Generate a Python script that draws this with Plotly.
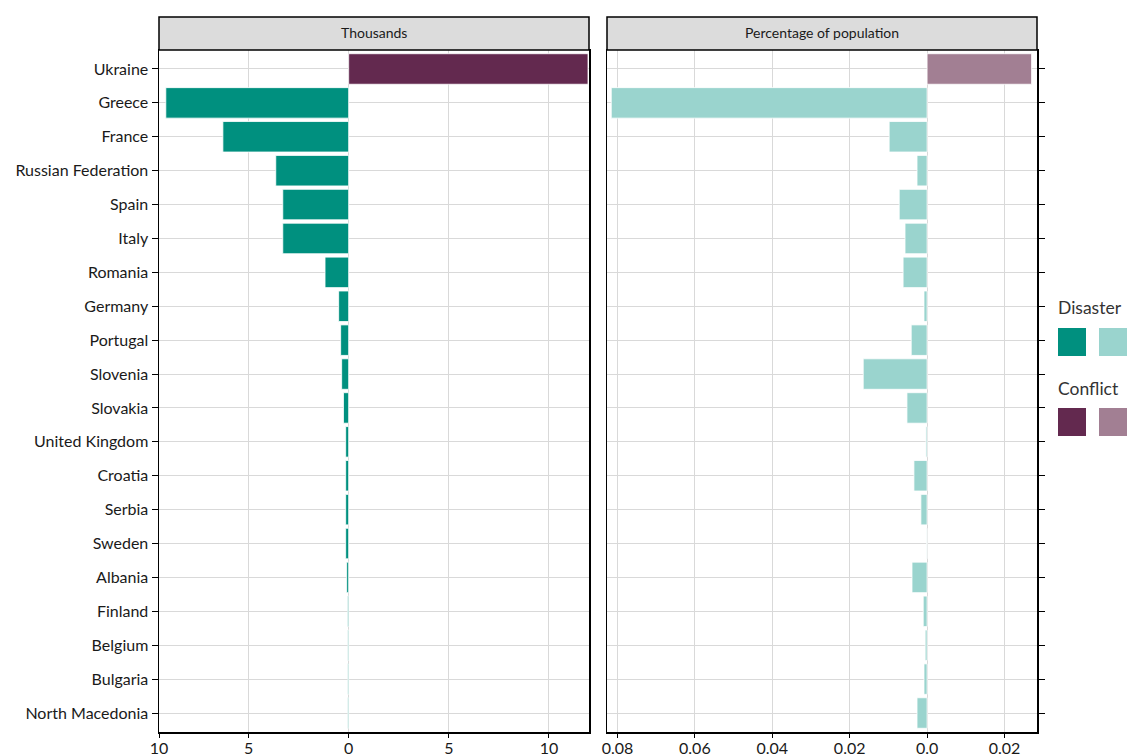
import plotly.graph_objects as go

countries = ["Ukraine", "Greece", "France", "Russian Federation", "Spain", "Italy",
             "Romania", "Germany", "Portugal", "Slovenia", "Slovakia", "United Kingdom",
             "Croatia", "Serbia", "Sweden", "Albania", "Finland", "Belgium", "Bulgaria",
             "North Macedonia"]

# Thousands of displacements
disaster_thousands = [None, 9.13, 6.28, 3.64, 3.29, 3.29, 1.18, 0.50, 0.40, 0.35, 0.26,
                      0.15, 0.15, 0.15, 0.15, 0.10, 0.05, 0.04, 0.04, 0.04]
conflict_thousands = [11.95] + [None] * 19

# Percentage of population
disaster_pct = [None, 0.0816, 0.0098, 0.0026, 0.0072, 0.0057, 0.0062, 0.0008, 0.0041,
                0.0165, 0.0052, 0.0003, 0.0034, 0.0016, 0.0001, 0.0039, 0.0010, 0.0005,
                0.0008, 0.0026]
conflict_pct = [0.0270] + [None] * 19

left_ticks = [5, 0, 5, 10]
right_ticks = [0.08, 0.06, 0.04, 0.02, 0.0, 0.02]

DARK_TEAL = "#00907F"
LIGHT_TEAL = "#9AD4CE"
DARK_PURPLE = "#63294F"
LIGHT_PURPLE = "#A27F93"

W, H = 1127, 756
def px(x):
    return x / W
def py(y):
    return 1 - y / H

neg = lambda arr: [(-v if v is not None else None) for v in arr]

fig = go.Figure()
bar_kw = dict(orientation="h", width=0.9, hoverinfo="skip", showlegend=False)
fig.add_trace(go.Bar(y=countries, x=neg(disaster_thousands), marker=dict(color=DARK_TEAL, line=dict(color="white", width=0.8)), xaxis="x", yaxis="y", **bar_kw))
fig.add_trace(go.Bar(y=countries, x=conflict_thousands, marker=dict(color=DARK_PURPLE, line=dict(color="white", width=0.8)), xaxis="x", yaxis="y", **bar_kw))
fig.add_trace(go.Bar(y=countries, x=neg(disaster_pct), marker=dict(color=LIGHT_TEAL, line=dict(color="white", width=0.8)), xaxis="x2", yaxis="y2", **bar_kw))
fig.add_trace(go.Bar(y=countries, x=conflict_pct, marker=dict(color=LIGHT_PURPLE, line=dict(color="white", width=0.8)), xaxis="x2", yaxis="y2", **bar_kw))

FONT = "Lato, Open Sans, sans-serif"
left_min, left_max = -9.47, 12.0
y_range = [19.56, -0.56]

grid = "#D9D9D9"
common_x = dict(showgrid=True, gridcolor=grid, gridwidth=1, zeroline=False,
                showline=True, linecolor="black", linewidth=1.5, mirror=True,
                ticks="outside", ticklen=4, tickcolor="black", automargin=False,
                ticklabelstandoff=-3,
                tickfont=dict(family=FONT, size=16, color="#1a1a1a"), fixedrange=True)
common_y = dict(type="category", categoryarray=countries, range=y_range,
                showgrid=True, gridcolor=grid, gridwidth=1, zeroline=False,
                showline=True, linecolor="black", linewidth=1.5, mirror=True,
                ticks="outside", ticklen=6, tickcolor="black", fixedrange=True,
                automargin=False)

fig.update_layout(
    template="none",
    width=W, height=H,
    margin=dict(l=0, r=0, t=0, b=0, pad=0, autoexpand=False),
    plot_bgcolor="white", paper_bgcolor="white",
    barmode="overlay", bargap=0.1,
    xaxis=dict(domain=[px(159), px(589)], range=[left_min, left_max],
               tickvals=[left_min, -5, 0, 5, 10],
               ticktext=[str(t) for t in [10] + left_ticks], anchor="y", **common_x),
    yaxis=dict(domain=[py(732), py(50)], anchor="x", side="left",
               tickfont=dict(family=FONT, size=16, color="#1a1a1a"), **common_y),
    xaxis2=dict(domain=[px(607), px(1037)], range=[-0.0827, 0.0284],
                tickvals=[-0.08, -0.06, -0.04, -0.02, 0, 0.02],
                ticktext=[f"{t:.2f}" if t != 0 else "0.0" for t in right_ticks],
                anchor="y2", **common_x),
    yaxis2=dict(domain=[py(732), py(50)], anchor="x2", side="right",
                showticklabels=False, **common_y),
)

shapes = []
annotations = []
for (x0, x1, label) in [(159, 589, "Thousands"), (607, 1037, "Percentage of population")]:
    shapes.append(dict(type="rect", xref="paper", yref="paper",
                       x0=px(x0), x1=px(x1), y0=py(50), y1=py(17),
                       fillcolor="#DCDCDC", line=dict(color="black", width=1.5)))
    annotations.append(dict(xref="paper", yref="paper", x=px((x0 + x1) / 2), y=py(32),
                            text=label, showarrow=False, xanchor="center", yanchor="middle",
                            font=dict(family=FONT, size=14, color="#1a1a1a")))

# Legend
for title, ty, sy, c1, c2 in [("Disaster", 307, 342, DARK_TEAL, LIGHT_TEAL),
                              ("Conflict", 388, 422, DARK_PURPLE, LIGHT_PURPLE)]:
    annotations.append(dict(xref="paper", yref="paper", x=px(1056), y=py(ty),
                            text=title, showarrow=False, xanchor="left", yanchor="middle",
                            font=dict(family=FONT, size=17.5, color="#333333")))
    for (xa, c) in [(1058, c1), (1099, c2)]:
        shapes.append(dict(type="rect", xref="paper", yref="paper",
                           x0=px(xa), x1=px(xa + 28), y0=py(sy + 14), y1=py(sy - 14),
                           fillcolor=c, line=dict(width=0)))

fig.update_layout(shapes=shapes, annotations=annotations)
fig.write_html("out.html",
               config={"displayModeBar": False, "staticPlot": True},
               post_script="document.body.style.margin='0';document.body.style.overflow='hidden';")
